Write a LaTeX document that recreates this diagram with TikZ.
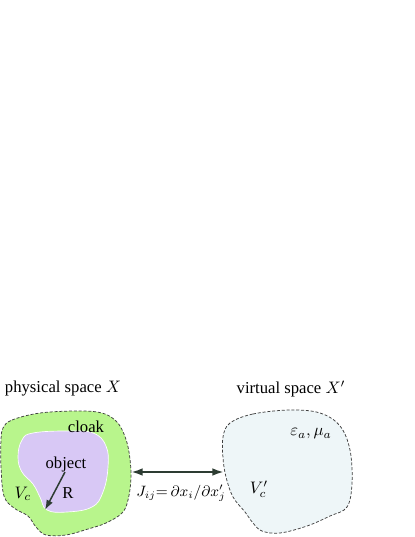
\documentclass[tikz,border=0pt]{standalone}
\usepackage{amsmath}
\usepackage{fontspec}
\setmainfont{Liberation Serif}
\usetikzlibrary{arrows.meta}
\definecolor{cloakgreen}{RGB}{184,245,140}
\definecolor{objpurple}{RGB}{216,200,245}
\definecolor{virtblue}{RGB}{238,246,248}
\definecolor{arrowgray}{RGB}{45,60,50}
\begin{document}
\begin{tikzpicture}[x=0.6pt,y=-0.6pt,font=\fontsize{10}{12}\selectfont,
    blob/.style={draw=black!75,line width=0.45pt,dash pattern=on 1.8pt off 1.1pt},
    maparrow/.style={arrowgray,line width=1.3pt,{Latex[length=7pt,width=4.6pt]}-{Latex[length=7pt,width=4.6pt]}},
    radarrow/.style={arrowgray,line width=0.9pt,-{Latex[length=6pt,width=4.2pt]}}]
    \useasboundingbox (0,0) rectangle (415,537);
    % physical space with cloak and object
    \draw[blob,fill=cloakgreen] plot[smooth cycle,tension=0.6] coordinates {(3,428) (12,420) (40,413) (78,411) (102,413) (116,421) (124,434) (129,452) (131,477) (128,500) (122,513) (106,523) (88,529) (66,535) (46,535) (36,527) (28,516) (14,508) (4,496) (1,467) (1,440)};
    \draw[white,line width=0.4pt,fill=objpurple] plot[smooth cycle,tension=0.7] coordinates {(22,440) (33,433) (67,431) (93,433) (106,446) (108,467) (103,492) (92,507) (67,512) (47,510) (40,497) (33,484) (22,472) (18,457)};
    % virtual space
    \draw[blob,fill=virtblue] plot[smooth cycle,tension=0.6] coordinates {(230,423) (253,414) (290,410) (320,413) (340,426) (350,450) (352,483) (347,507) (330,516) (307,526) (280,533) (262,531) (253,523) (245,512) (233,497) (226,477) (223,458) (223,437)};
    % labels
    \node (phys) at (63,389) {physical space $X$};
    \node (virt) at (291,389) {virtual space $X'$};
    \node (cloak) at (86,427) {cloak};
    \node (obj) at (66,464) {object};
    \node (rad) at (68,493) {R};
    \node (vc) at (23,494) {$V_c$};
    \node (eps) at (311,434) {$\varepsilon_a, \mu_a$};
    \node (vcp) at (259,489) {$V'_c$};
    \node[font=\fontsize{9}{11}\selectfont] (jac) at (181,493) {$J_{ij}{=}\,\partial x_i/\partial x'_j$};
    % arrows
    \coordinate (lft) at (131,472);
    \coordinate (rgt) at (224,472);
    \draw[maparrow] (lft) -- (rgt);
    \coordinate (rtail) at (65,472);
    \coordinate (rtip) at (45,510);
    \draw[radarrow] (rtail) -- (rtip);
\end{tikzpicture}
\end{document}
